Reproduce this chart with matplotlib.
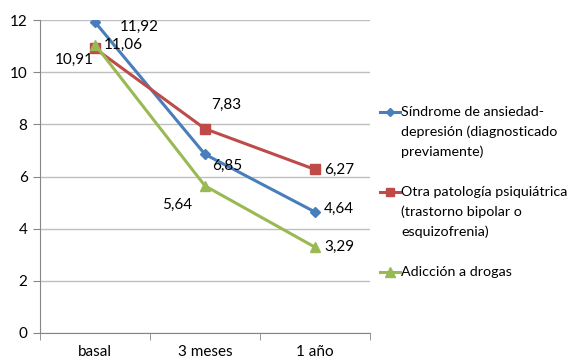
import matplotlib
matplotlib.use('Agg')
import matplotlib.pyplot as plt
from matplotlib.lines import Line2D
from matplotlib.ticker import FixedLocator

plt.rcParams['font.family'] = ['Lato', 'DejaVu Sans']

categories = ['basal', '3 meses', '1 año']
series_names = [['Síndrome de ansiedad-', 'depresión (diagnosticado', 'previamente)'],
                ['Otra patología psiquiátrica', '(trastorno bipolar o', 'esquizofrenia)'],
                ['Adicción a drogas']]
ansiedad = [11.92, 6.85, 4.64]
otra = [10.91, 7.83, 6.27]
drogas = [11.06, 5.64, 3.29]

colors = ['#4A7EBB', '#BE4B48', '#98B954']
markers = ['D', 's', '^']
msizes = [5.5, 7, 7.5]

# data label offsets in points (dx, dy, ha)
offsets = [
    [(18, -3.5, 'left'), (5, -8, 'left'), (6.5, 2, 'left')],
    [(-1, -8.3, 'right'), (4.3, 17, 'left'), (6.5, 0, 'left')],
    [(6.5, 0, 'left'), (-9.4, -13.7, 'right'), (6.5, 0, 'left')],
]

W, H = 572, 358
fig = plt.figure(figsize=(W / 100, H / 100), dpi=100)
ax = fig.add_axes([40 / W, 25 / H, 330 / W, 313 / H])

x = list(range(len(categories)))
for vals, c, m, ms, offs in zip([ansiedad, otra, drogas], colors, markers, msizes, offsets):
    ax.plot(x, vals, color=c, marker=m, markersize=ms, linewidth=2.2,
            markeredgecolor=c, zorder=3)
    for xi, v, (dx, dy, ha) in zip(x, vals, offs):
        ax.annotate(('%.2f' % v).replace('.', ','), (xi, v), xytext=(dx, dy),
                    textcoords='offset points', fontsize=11, color='#000000',
                    va='center', ha=ha)

ax.set_xlim(-0.5, 2.5)
ax.set_ylim(0, 12)
ax.set_yticks(range(0, 13, 2))
ax.yaxis.grid(True, color='#BFBFBF', linewidth=1)
ax.set_axisbelow(True)
ax.set_xticks(x)
ax.set_xticklabels(categories, fontsize=11)
ax.tick_params(axis='x', length=0, pad=9)
ax.xaxis.set_minor_locator(FixedLocator([-0.5, 0.5, 1.5, 2.5]))
ax.tick_params(axis='x', which='minor', length=5, color='#868686')
ax.tick_params(axis='y', length=5, color='#868686', labelsize=11, pad=4)
for s in ['top', 'right']:
    ax.spines[s].set_visible(False)
for s in ['left', 'bottom']:
    ax.spines[s].set_color('#868686')

# legend, handle aligned with the first line of each entry
for i, (name, c, m, ms) in enumerate(zip(series_names, colors, markers, msizes)):
    y0 = 1 - (112 + 80 * i) / H
    fig.add_artist(Line2D([380 / W, 400 / W], [y0, y0], color=c, linewidth=2.2,
                          transform=fig.transFigure))
    fig.add_artist(Line2D([390 / W], [y0], color=c, marker=m, markersize=ms - 1,
                          transform=fig.transFigure))
    for j, line in enumerate(name):
        fig.text(401 / W, y0 - 20 * j / H, line, fontsize=10.3, va='center', ha='left')

fig.savefig('out.png', dpi=100)
